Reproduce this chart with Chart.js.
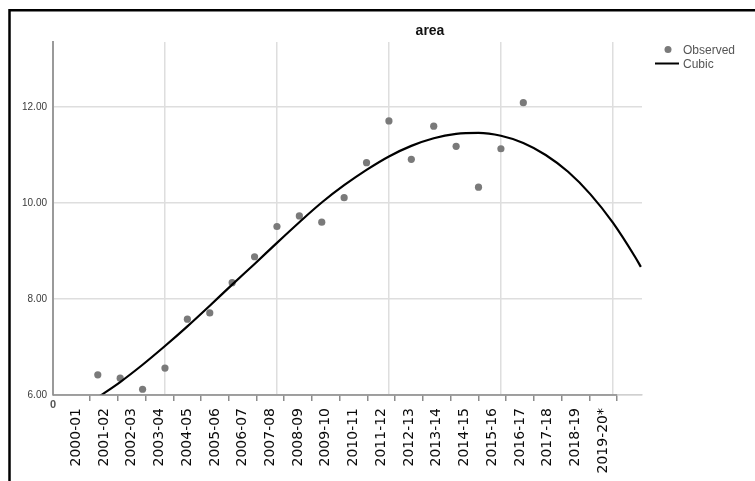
<!DOCTYPE html>
<html><head><meta charset="utf-8">
<script src="https://cdn.jsdelivr.net/npm/chart.js@4/dist/chart.umd.min.js"></script>
<style>html,body{margin:0;padding:0;background:#fff;overflow:hidden}#wrap{width:755px;height:481px;position:relative}</style>
</head><body><div id="wrap"><canvas id="c" width="755" height="481"></canvas></div>
<script>
const categories = ['2000-01','2001-02','2002-03','2003-04','2004-05','2005-06','2006-07','2007-08','2008-09','2009-10','2010-11','2011-12','2012-13','2013-14','2014-15','2015-16','2016-17','2017-18','2018-19','2019-20*'];
const observedX = [2,3,4,5,6,7,8,9,10,11,12,13,14,15,16,17,18,19,20,21];
const observedY = [6.42,6.35,6.12,6.56,7.58,7.71,8.34,8.88,9.51,9.73,9.60,10.11,10.84,11.71,10.91,11.60,11.18,10.33,11.13,12.09];
const cubicX = [2,3,4,5,6,7,8,9,10,11,12,13,14,15,16,17,18,19,20,21,22,23,24,25,26,26.25];
const cubicY = [5.95,6.27,6.63,7.02,7.43,7.86,8.30,8.73,9.17,9.60,10.01,10.37,10.69,10.97,11.19,11.35,11.44,11.46,11.40,11.25,11.00,10.65,10.18,9.59,8.87,8.67];
const yTickValues = [6,8,10,12];
const xGridValues = [0,5,10,15,20,25];
const xOriginLabel = '0';
const titleText = 'area';
const legendLabels = ['Observed','Cubic'];

const decor = {
  id:'decor',
  afterDraw(chart){
    const ctx = chart.ctx, ca = chart.chartArea, xc = chart.scales.xc, x = chart.scales.x;
    ctx.save();
    // category axis line
    ctx.strokeStyle = '#8c8c8c'; ctx.lineWidth = 1.5;
    ctx.beginPath();
    ctx.moveTo(ca.left, ca.bottom);
    ctx.lineTo(xc.getPixelForValue(categories.length - 0.5), ca.bottom);
    ctx.stroke();
    // origin label of the numeric axis
    ctx.fillStyle = '#555'; ctx.font = 'bold 11px "Liberation Sans"';
    ctx.textAlign = 'center'; ctx.textBaseline = 'middle';
    ctx.fillText(xOriginLabel, x.getPixelForValue(0), ca.bottom + 10);
    // frame
    ctx.strokeStyle = '#000'; ctx.lineWidth = 2.5;
    ctx.beginPath(); ctx.moveTo(9.5, 481); ctx.lineTo(9.5, 10.3); ctx.lineTo(755, 10.3); ctx.stroke();
    // title
    ctx.fillStyle = '#111'; ctx.font = 'bold 14px "Liberation Sans"';
    ctx.textAlign = 'center'; ctx.textBaseline = 'middle';
    ctx.fillText(titleText, 430, 31);
    // legend
    ctx.fillStyle = '#7a7a7a';
    ctx.beginPath(); ctx.arc(668, 49.5, 3.5, 0, Math.PI*2); ctx.fill();
    ctx.strokeStyle = '#000'; ctx.lineWidth = 2;
    ctx.beginPath(); ctx.moveTo(655, 63.5); ctx.lineTo(679, 63.5); ctx.stroke();
    ctx.fillStyle = '#555'; ctx.font = '12px "Liberation Sans"'; ctx.textAlign = 'left';
    ctx.fillText(legendLabels[0], 683, 50.5);
    ctx.fillText(legendLabels[1], 683, 64.5);
    ctx.restore();
  }
};

new Chart(document.getElementById('c'), {
  type: 'scatter',
  data: {
    datasets: [
      { label: legendLabels[0], order: 2, data: observedX.map((x,i)=>({x, y: observedY[i]})),
        pointRadius: 3.6, pointBackgroundColor: '#7a7a7a', pointBorderWidth: 0, showLine: false },
      { type: 'line', label: legendLabels[1], order: 1, data: cubicX.map((x,i)=>({x, y: cubicY[i]})),
        borderColor: '#000', borderWidth: 2.2, pointRadius: 0, fill: false, cubicInterpolationMode: 'monotone' }
    ]
  },
  options: {
    responsive: false, animation: false, devicePixelRatio: 1,
    layout: { padding: { top: 42, right: 113, bottom: 0, left: 0 } },
    plugins: { legend: { display: false }, title: { display: false }, tooltip: { enabled: false } },
    scales: {
      x: { type: 'linear', position: 'bottom', weight: 0, min: 0, max: 26.3, bounds: 'data',
        afterBuildTicks: s => { s.ticks = xGridValues.map(v => ({ value: v })); },
        afterFit: s => { s.height = 0; },
        grid: { color: '#dedede', lineWidth: 1.5, drawTicks: false },
        border: { display: true, color: '#d0d0d0', width: 1.5 },
        ticks: { display: false } },
      xc: { type: 'linear', position: 'bottom', weight: 1, min: -0.836, max: 20.397, bounds: 'data',
        afterBuildTicks: s => { s.ticks = categories.map((c, i) => ({ value: i })); },
        afterFit: s => { s.height = 86; },
        grid: { drawOnChartArea: false, offset: true, drawTicks: true, tickLength: 6, tickWidth: 1.5,
          tickColor: c => c.index === 0 ? 'rgba(0,0,0,0)' : '#8c8c8c', lineWidth: 1.5 },
        border: { display: false },
        ticks: { autoSkip: false, minRotation: 90, maxRotation: 90, padding: 7, color: '#0a0a0a',
          font: { family: 'DejaVu Sans', size: 14 },
          callback: (v, i) => categories[i] } },
      y: { type: 'linear', min: 6, max: 13.354, bounds: 'data',
        afterBuildTicks: s => { s.ticks = yTickValues.map(v => ({ value: v })); },
        afterFit: s => { s.width = 53; },
        grid: { color: '#dedede', lineWidth: 1.5, drawTicks: false },
        border: { color: '#9a9a9a', width: 2 },
        ticks: { padding: 6, color: '#3a3a3a', font: { family: 'Liberation Sans', size: 10 },
          callback: v => Number(v).toFixed(2) } }
    }
  },
  plugins: [decor]
});
</script></body></html>
